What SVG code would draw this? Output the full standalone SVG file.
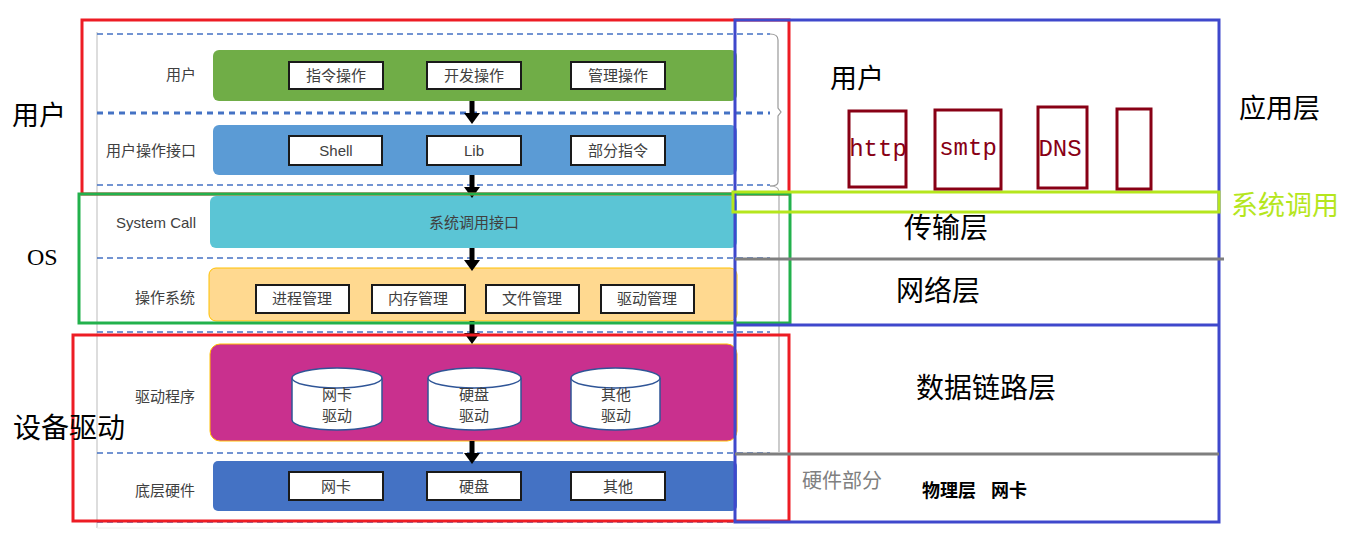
<svg xmlns="http://www.w3.org/2000/svg" width="1352" height="540" viewBox="0 0 1352 540">
<style>
.lbl{font-family:"Liberation Sans","Noto Sans CJK SC",sans-serif;font-size:15px;fill:#404040;text-anchor:end}
.box{fill:#fff;stroke:#1a1a1a;stroke-width:2}
.bt{font-family:"Liberation Sans","Noto Sans CJK SC",sans-serif;font-size:15px;fill:#404040;text-anchor:middle}
.dash{stroke:#4472c4;stroke-width:1.5;stroke-dasharray:6,4;fill:none}
.big{font-family:"Liberation Serif","Noto Sans CJK SC",serif;fill:#000}
.proto{fill:none;stroke:#880015;stroke-width:3}
.pt{font-family:"Liberation Mono","Courier New",monospace;font-size:24px;fill:#880015;text-anchor:middle}
.cyl{fill:#fff;stroke:#2f5597;stroke-width:1.5}
</style>
<defs>
<g id="arr"><rect x="-2.5" y="0" width="5" height="13" fill="#000"/><polygon points="-8,12 8,12 0,23" fill="#000"/></g>
</defs>
<rect width="1352" height="540" fill="#fff"/>

<g id="frame">
<line x1="97" y1="32" x2="97" y2="528" stroke="#ddd" stroke-width="2"/>
<line x1="97" y1="528" x2="770" y2="528" stroke="#eee" stroke-width="1"/>
<path d="M770,34 Q778,34 778,40 L778,108 L781,112 L778,116 L778,182 Q778,186 770,186" fill="none" stroke="#999" stroke-width="1.2"/>
<path d="M770,186 Q779,186 779,192 L779,452" fill="none" stroke="#aaa" stroke-width="1.2"/>
<line class="dash" x1="97" y1="34" x2="770" y2="34"/>
<line x1="97" y1="113" x2="770" y2="113" stroke="#4472c4" stroke-width="3" stroke-dasharray="6,5"/>
<line class="dash" x1="97" y1="185" x2="770" y2="185"/>
<line class="dash" x1="97" y1="258" x2="770" y2="258"/>
<line class="dash" x1="97" y1="332" x2="770" y2="332"/>
<line class="dash" x1="97" y1="453" x2="770" y2="453"/>
<line class="dash" x1="97" y1="522" x2="770" y2="522"/>
</g>

<g id="row-user">
<text class="lbl" x="196" y="80">用户</text>
<rect x="213" y="50" width="524" height="51" rx="6" fill="#70ad47"/>
<rect class="box" x="289" y="62" width="94" height="27"/><text class="bt" x="336" y="81">指令操作</text>
<rect class="box" x="427" y="62" width="94" height="27"/><text class="bt" x="474" y="81">开发操作</text>
<rect class="box" x="571" y="62" width="94" height="27"/><text class="bt" x="618" y="81">管理操作</text>
</g>

<g id="row-ui">
<text class="lbl" x="196" y="156">用户操作接口</text>
<rect x="213" y="125" width="524" height="50" rx="6" fill="#5b9bd5"/>
<rect class="box" x="289" y="136" width="93" height="29"/><text class="bt" x="336" y="156">Shell</text>
<rect class="box" x="427" y="136" width="94" height="29"/><text class="bt" x="474" y="156">Lib</text>
<rect class="box" x="571" y="136" width="94" height="29"/><text class="bt" x="618" y="156">部分指令</text>
</g>

<g id="row-syscall">
<text class="lbl" x="196" y="228">System Call</text>
<rect x="210" y="196" width="527" height="52" rx="6" fill="#5bc5d5"/>
<text class="bt" x="474" y="228">系统调用接口</text>
</g>

<g id="row-os">
<text class="lbl" x="195" y="303">操作系统</text>
<rect x="209" y="268" width="528" height="53" rx="7" fill="#ffd990" stroke="#ffc000" stroke-width="1"/>
<rect class="box" x="256" y="285" width="93" height="28"/><text class="bt" x="302" y="304">进程管理</text>
<rect class="box" x="372" y="285" width="93" height="28"/><text class="bt" x="418" y="304">内存管理</text>
<rect class="box" x="486" y="285" width="93" height="28"/><text class="bt" x="532" y="304">文件管理</text>
<rect class="box" x="601" y="285" width="93" height="28"/><text class="bt" x="647" y="304">驱动管理</text>
</g>

<g id="row-driver">
<text class="lbl" x="195" y="402">驱动程序</text>
<rect x="210" y="344" width="527" height="97" rx="10" fill="#c9308e" stroke="#ffc000" stroke-width="1"/>
<g>
<path class="cyl" d="M292,378 L292,420 A45,10 0 0 0 382,420 L382,378"/>
<ellipse class="cyl" cx="337" cy="378" rx="45" ry="10"/>
<text class="bt" x="337" y="400">网卡</text><text class="bt" x="337" y="421">驱动</text>
</g>
<g>
<path class="cyl" d="M428,378 L428,420 A46.5,10 0 0 0 521,420 L521,378"/>
<ellipse class="cyl" cx="474.5" cy="378" rx="46.5" ry="10"/>
<text class="bt" x="474" y="400">硬盘</text><text class="bt" x="474" y="421">驱动</text>
</g>
<g>
<path class="cyl" d="M571,378 L571,420 A44.5,10 0 0 0 660,420 L660,378"/>
<ellipse class="cyl" cx="615.5" cy="378" rx="44.5" ry="10"/>
<text class="bt" x="616" y="400">其他</text><text class="bt" x="616" y="421">驱动</text>
</g>
</g>

<g id="row-hw">
<text class="lbl" x="195" y="496">底层硬件</text>
<rect x="213" y="461" width="524" height="50" rx="5" fill="#4472c4"/>
<rect class="box" x="289" y="472" width="94" height="28"/><text class="bt" x="336" y="492">网卡</text>
<rect class="box" x="427" y="472" width="94" height="28"/><text class="bt" x="474" y="492">硬盘</text>
<rect class="box" x="571" y="472" width="94" height="28"/><text class="bt" x="618" y="492">其他</text>
</g>

<g id="connectors">
<use href="#arr" x="472" y="101"/>
<use href="#arr" x="472" y="175"/>
<use href="#arr" x="472" y="248"/>
<use href="#arr" x="472" y="321"/>
<use href="#arr" x="472" y="441"/>
</g>

<g id="overlay-user"><rect x="82" y="20" width="707" height="174" fill="none" stroke="#ed1c24" stroke-width="3"/></g>
<g id="overlay-os"><rect x="79" y="194" width="711" height="129" fill="none" stroke="#22b14c" stroke-width="3"/></g>
<g id="overlay-dev"><rect x="73" y="335" width="716" height="186" fill="none" stroke="#ed1c24" stroke-width="3"/></g>

<g id="net-layers">
<rect x="735" y="20" width="484" height="502" fill="none" stroke="#3f48cc" stroke-width="3"/>
<line x1="735" y1="325" x2="1219" y2="325" stroke="#3f48cc" stroke-width="3"/>
<line x1="735" y1="259" x2="1224" y2="259" stroke="#7f7f7f" stroke-width="3"/>
<line x1="735" y1="454" x2="1219" y2="454" stroke="#7f7f7f" stroke-width="3"/>
<rect x="733" y="192" width="486" height="20" fill="none" stroke="#b5e61d" stroke-width="3"/>
</g>

<g id="protocols">
<rect class="proto" x="849" y="111" width="57" height="76"/><text class="pt" x="878" y="156">http</text>
<rect class="proto" x="935" y="110" width="66" height="79"/><text class="pt" x="968" y="155">smtp</text>
<rect class="proto" x="1038" y="107" width="49" height="81"/><text class="pt" x="1060" y="156">DNS</text>
<rect class="proto" x="1117" y="109" width="34" height="80"/>
</g>

<g id="labels">
<text class="big" x="12" y="125" font-size="27">用户</text>
<text class="big" x="27" y="265" font-size="24">OS</text>
<text class="big" x="13" y="438" font-size="28">设备驱动</text>
<text class="big" x="830" y="88" font-size="27">用户</text>
<text class="big" x="1239" y="118" font-size="27">应用层</text>
<text x="1231" y="215" font-family="Liberation Serif,Noto Sans CJK SC,serif" font-size="27" fill="#b5e61d">系统调用</text>
<text class="big" x="904" y="238" font-size="28">传输层</text>
<text class="big" x="896" y="301" font-size="28">网络层</text>
<text class="big" x="916" y="398" font-size="28">数据链路层</text>
<text x="802" y="488" font-family="Liberation Serif,Noto Sans CJK SC,serif" font-size="20" fill="#808080">硬件部分</text>
<text class="big" x="922" y="497" font-size="18" font-weight="bold">物理层<tspan x="991">网卡</tspan></text>
</g>
</svg>
